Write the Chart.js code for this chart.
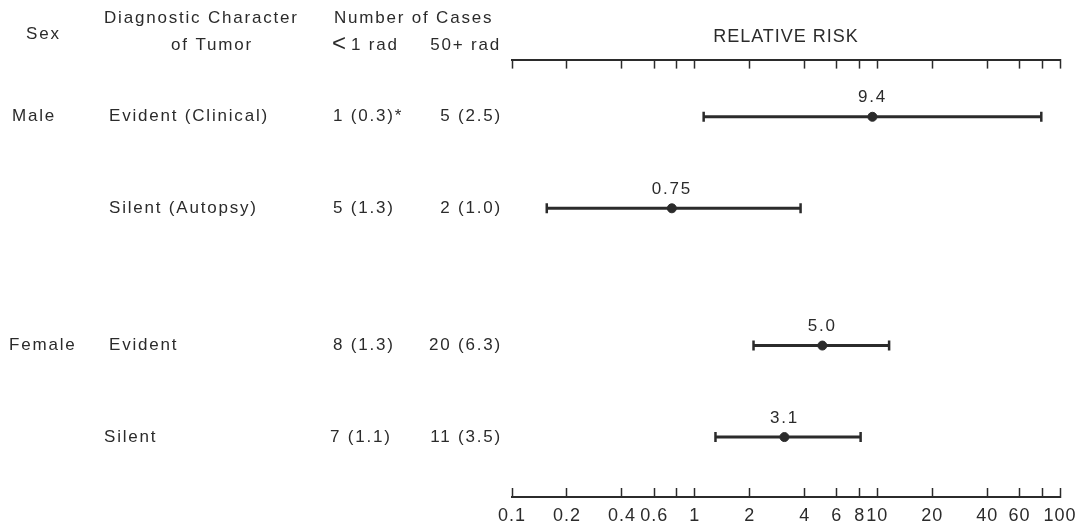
<!DOCTYPE html>
<html>
<head>
<meta charset="utf-8">
<script src="https://cdn.jsdelivr.net/npm/chart.js@4"></script>
<style>
    html, body { margin: 0; padding: 0; background: #fff; }
    #wrap { width: 1075px; height: 529px; }
</style>
</head>
<body>
<div id="wrap"><canvas id="myChart"></canvas></div>
<script>
// table columns
const sexLabels = ['Male', '', 'Female', '']
const tumorLabels = ['Evident (Clinical)', 'Silent (Autopsy)', 'Evident', 'Silent']
const casesLow = ['1 (0.3)*', '5 (1.3)', '8 (1.3)', '7 (1.1)']
const casesHigh = ['5 (2.5)', '2 (1.0)', '20 (6.3)', '11 (3.5)']

// relative risk + interval
const relRisk = [9.4, 0.75, 5.0, 3.1]
const relRiskLabels = ['9.4', '0.75', '5.0', '3.1']
const ciLow = [1.12, 0.155, 2.1, 1.3]
const ciHigh = [79, 3.8, 11.6, 8.1]

// row slots on the hidden y axis (gap between male and female groups)
const rowSlot = [1, 3, 6, 8]

const tickValues = [0.1, 0.2, 0.4, 0.6, 0.8, 1, 2, 4, 6, 8, 10, 20, 40, 60, 80, 100]
const tickLabels = ['0.1', '0.2', '0.4', '0.6', '', '1', '2', '4', '6', '8', '10', '20', '40', '60', '', '100']

const ink = '#2b2b2b'
const fontFamily = '"Liberation Sans", Arial, sans-serif'
const axisSpacing = '1px'
const textSpacing = '1.8px'

const setSpacing = (chart) => {
    chart.ctx.letterSpacing = axisSpacing
}

const tablePlugin = {
    id: 'tableText',
    beforeUpdate: setSpacing,
    beforeDraw: setSpacing,
    afterDraw: (chart) => {
        const ctx = chart.ctx
        const x = chart.scales.x
        const y = chart.scales.y
        ctx.save()
        ctx.letterSpacing = textSpacing
        ctx.fillStyle = ink
        ctx.textBaseline = 'middle'
        ctx.font = '17px ' + fontFamily

        // headers
        ctx.textAlign = 'left'
        ctx.fillText('Sex', 26, 34)
        ctx.fillText('Diagnostic Character', 104, 18)
        ctx.textAlign = 'center'
        ctx.fillText('of Tumor', 212, 45)
        ctx.textAlign = 'left'
        ctx.fillText('Number of Cases', 334, 18)
        ctx.font = '24px ' + fontFamily
        ctx.fillText('<', 332, 44)
        ctx.font = '17px ' + fontFamily
        ctx.fillText('1 rad', 351, 45)
        ctx.textAlign = 'right'
        ctx.fillText('50+ rad', 501, 45)

        // rows
        rowSlot.forEach((slot, i) => {
            const py = y.getPixelForValue(slot)
            ctx.textAlign = 'left'
            ctx.fillText(sexLabels[i], i === 0 ? 12 : 9, py)
            ctx.fillText(tumorLabels[i], i === 3 ? 104 : 109, py)
            ctx.fillText(casesLow[i], i === 3 ? 330 : 333, py)
            ctx.textAlign = 'right'
            ctx.fillText(casesHigh[i], 502, py)

            // value above the point
            ctx.textAlign = 'center'
            ctx.fillText(relRiskLabels[i], x.getPixelForValue(relRisk[i]), py - 19)
        })
        ctx.restore()
    }
}

const ciSets = rowSlot.map((slot, i) => ({
    type: 'line',
    data: [{ x: ciLow[i], y: slot }, { x: ciHigh[i], y: slot }],
    borderColor: ink,
    borderWidth: 3,
    pointStyle: 'line',
    rotation: 90,
    pointRadius: 5,
    pointBorderWidth: 2.5,
    pointBorderColor: ink,
    xAxisID: 'x',
    yAxisID: 'y'
}))

const pointSet = {
    type: 'scatter',
    data: rowSlot.map((slot, i) => ({ x: relRisk[i], y: slot })),
    pointRadius: 4.5,
    backgroundColor: ink,
    borderColor: ink,
    xAxisID: 'x',
    yAxisID: 'y'
}

const logAxis = (extra) => Object.assign({
    type: 'logarithmic',
    min: 0.1,
    max: 100,
    afterBuildTicks: (scale) => {
        scale.ticks = tickValues.map((v) => ({ value: v }))
    },
    border: { display: true, color: ink, width: 2 },
    grid: {
        drawOnChartArea: false,
        drawTicks: true,
        tickLength: -9,
        tickColor: ink,
        tickWidth: 1.5
    }
}, extra)

let ctx = document.getElementById('myChart').getContext('2d')
let myChart = new Chart(ctx, {
    type: 'scatter',
    data: { datasets: [...ciSets, pointSet] },
    options: {
        responsive: true,
        maintainAspectRatio: false,
        animation: false,
        events: [],
        layout: { padding: { left: 512, right: 15, top: 0, bottom: 0 } },
        plugins: {
            legend: false,
            tooltip: { enabled: false }
        },
        scales: {
            x: logAxis({
                position: 'bottom',
                afterFit: (scale) => {
                    scale.paddingLeft = 0
                    scale.paddingRight = 0
                    scale.height = 32
                },
                ticks: {
                    autoSkip: false,
                    maxRotation: 0,
                    padding: 17,
                    color: ink,
                    font: { family: fontFamily, size: 18 },
                    callback: (val, index) => tickLabels[index]
                }
            }),
            xTop: logAxis({
                position: 'top',
                afterFit: (scale) => {
                    scale.paddingLeft = 0
                    scale.paddingRight = 0
                },
                ticks: { display: false },
                title: {
                    display: true,
                    text: 'RELATIVE RISK',
                    color: ink,
                    font: { family: fontFamily, size: 18 },
                    padding: { top: 26, bottom: 21 }
                }
            }),
            y: {
                type: 'linear',
                display: false,
                reverse: true,
                min: -0.25,
                max: 9.31
            }
        }
    },
    plugins: [tablePlugin]
})
</script>
</body>
</html>
